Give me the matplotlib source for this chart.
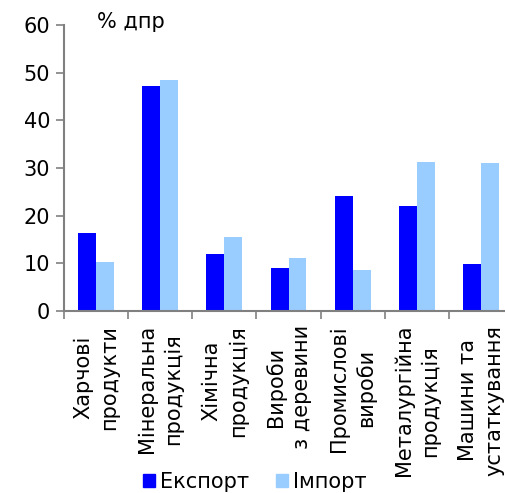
import matplotlib
matplotlib.use("Agg")
import matplotlib.pyplot as plt
import numpy as np
from matplotlib.patches import Patch

categories = ["Харчові\nпродукти", "Мінеральна\nпродукція", "Хімічна\nпродукція",
              "Вироби\nз деревини", "Промислові\nвироби", "Металургійна\nпродукція",
              "Машини та\nустаткування"]
export_vals = [16.3, 47.2, 12.0, 9.0, 24.1, 22.1, 9.9]
import_vals = [10.3, 48.5, 15.5, 11.2, 8.7, 31.3, 31.0]
series_names = ["Експорт", "Імпорт"]
yticks = [0, 10, 20, 30, 40, 50, 60]

plt.rcParams['font.family'] = ['DejaVu Sans']
fig = plt.figure(figsize=(5.05, 4.93), dpi=100)
ax = fig.add_axes([64/505, (493-311)/493, (513-64)/505, (311-25)/493])

x = np.arange(len(categories))
w = 0.28
ax.bar(x - w/2, export_vals, w, color="#0000FF", zorder=2)
ax.bar(x + w/2, import_vals, w, color="#99CCFF", zorder=2)

ax.set_xlim(-0.5, len(categories) - 0.5)
ax.set_ylim(0, 60)
ax.set_yticks(yticks)
ax.tick_params(axis='y', labelsize=15, length=6, width=1.2, color="#808080", pad=4)
ax.set_xticks(x)
ax.set_xticklabels(categories, rotation=90, fontsize=15, ha='center', va='top',
                   multialignment='center', linespacing=1.4)
ax.tick_params(axis='x', which='major', length=0, pad=10)
ax.set_xticks(np.arange(-0.5, len(categories), 1.0), minor=True)
ax.tick_params(axis='x', which='minor', length=6, width=1.2, color="#808080")

for s in ['top', 'right']:
    ax.spines[s].set_visible(False)
for s in ['left', 'bottom']:
    ax.spines[s].set_color("#808080")
    ax.spines[s].set_linewidth(1.5)

fig.text(97/505, 1 - 22/493, "% дпр", fontsize=15, ha='left', va='center')

handles = [Patch(color="#0000FF"), Patch(color="#99CCFF")]
fig.legend(handles, series_names, loc='center', bbox_to_anchor=(255/505, 1 - 482/493),
           ncol=2, frameon=False, fontsize=15, handlelength=0.55, handleheight=0.55,
           handletextpad=0.25, columnspacing=1.3)

fig.savefig("out.png", dpi=100)
